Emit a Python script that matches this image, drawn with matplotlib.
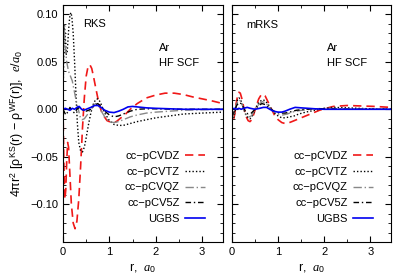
import matplotlib
matplotlib.use("Agg")
import matplotlib.pyplot as plt
from matplotlib.ticker import MultipleLocator

plt.rcParams['font.family'] = ['Liberation Sans', 'DejaVu Sans']
plt.rcParams['mathtext.fontset'] = 'custom'
plt.rcParams['mathtext.rm'] = 'Liberation Sans'
plt.rcParams['mathtext.it'] = 'Liberation Serif:italic'
plt.rcParams['mathtext.sf'] = 'Liberation Sans'

labels = ["cc\u2212pCVDZ", "cc\u2212pCVTZ", "cc\u2212pCVQZ", "cc\u2212pCV5Z", "UGBS"]

# ---- RKS panel data ----
rks_dz_r = [0.0, 0.02, 0.04, 0.06, 0.08, 0.10, 0.12, 0.15, 0.18, 0.22, 0.26, 0.30, 0.34, 0.38, 0.42,
            0.46, 0.50, 0.54, 0.58, 0.62, 0.66, 0.70, 0.75, 0.80, 0.85, 0.95, 1.05, 1.15, 1.25, 1.35,
            1.45, 1.6, 1.8, 2.0, 2.2, 2.4, 2.6, 2.8, 3.0, 3.2, 3.45]
rks_dz_y = [0.0, -0.06, -0.095, -0.085, -0.055, -0.035, -0.04, -0.07, -0.10, -0.12, -0.126, -0.118, -0.095,
            -0.06, -0.02, 0.012, 0.035, 0.045, 0.047, 0.043, 0.034, 0.024, 0.012, 0.002, -0.005, -0.012,
            -0.014, -0.013, -0.009, -0.005, 0.0, 0.006, 0.012, 0.015, 0.017, 0.017, 0.0155, 0.013, 0.011,
            0.009, 0.006]

rks_tz_r = [0.0, 0.015, 0.03, 0.05, 0.07, 0.09, 0.11, 0.13, 0.15, 0.17, 0.19, 0.22, 0.25, 0.28, 0.31,
            0.34, 0.38, 0.42, 0.46, 0.50, 0.55, 0.60, 0.65, 0.70, 0.75, 0.80, 0.85, 0.90, 1.0, 1.1, 1.2,
            1.3, 1.45, 1.6, 1.8, 2.0, 2.3, 2.6, 3.0, 3.45]
rks_tz_y = [0.0, 0.06, 0.09, 0.075, 0.058, 0.06, 0.075, 0.09, 0.099, 0.102, 0.098, 0.08, 0.05, 0.015, -0.015,
            -0.035, -0.044, -0.045, -0.04, -0.03, -0.016, -0.004, 0.005, 0.010, 0.011, 0.008, 0.002, -0.004,
            -0.012, -0.016, -0.017, -0.017, -0.015, -0.013, -0.011, -0.009, -0.007, -0.005, -0.004, -0.003]

rks_qz_r = [0.0, 0.02, 0.05, 0.08, 0.12, 0.16, 0.20, 0.24, 0.28, 0.33, 0.37, 0.41, 0.46, 0.52, 0.58,
            0.64, 0.70, 0.75, 0.80, 0.85, 0.90, 1.0, 1.1, 1.2, 1.3, 1.45, 1.6, 1.8, 2.0, 2.3, 2.6, 3.0, 3.45]
rks_qz_y = [0.0, 0.09, 0.065, 0.05, 0.04, 0.035, 0.03, 0.02, 0.01, 0.0, -0.008, -0.011, -0.01, -0.006, -0.001,
            0.003, 0.006, 0.005, 0.001, -0.004, -0.008, -0.013, -0.014, -0.013, -0.011, -0.008, -0.006,
            -0.004, -0.003, -0.002, -0.001, -0.0005, 0.0]

rks_5z_r = [0.0, 0.03, 0.06, 0.1, 0.15, 0.2, 0.25, 0.3, 0.35, 0.4, 0.5, 0.6, 0.68, 0.75, 0.82, 0.9, 1.0,
            1.1, 1.2, 1.3, 1.45, 1.6, 1.8, 2.0, 2.5, 3.0, 3.45]
rks_5z_y = [0.0, -0.003, -0.006, -0.003, 0.002, -0.002, -0.004, 0.0, 0.002, 0.0, -0.002, 0.0, 0.004, 0.006,
            0.003, -0.002, -0.006, -0.008, -0.007, -0.005, -0.002, 0.0, 0.0005, 0.0005, 0.0, 0.0, 0.0]

rks_ug_r = [0.0, 0.05, 0.1, 0.15, 0.2, 0.25, 0.3, 0.35, 0.4, 0.45, 0.5, 0.6, 0.68, 0.75, 0.82, 0.9, 1.0,
            1.1, 1.2, 1.3, 1.4, 1.5, 1.6, 1.8, 2.0, 2.3, 2.6, 3.0, 3.45]
rks_ug_y = [0.0, 0.001, 0.0, -0.001, 0.001, 0.0, 0.002, 0.003, 0.0, -0.001, 0.0, 0.002, 0.004, 0.004,
            0.002, -0.001, -0.003, -0.0035, -0.002, 0.0, 0.0025, 0.003, 0.0025, 0.0015, 0.001, 0.0005, 0.0,
            0.0, 0.0]

# ---- mRKS panel data ----
m_dz_r = [0.0, 0.03, 0.06, 0.09, 0.12, 0.15, 0.18, 0.21, 0.25, 0.3, 0.35, 0.39, 0.43, 0.48, 0.53, 0.58,
          0.63, 0.67, 0.72, 0.77, 0.82, 0.87, 0.92, 1.0, 1.08, 1.15, 1.22, 1.3, 1.4, 1.5, 1.6, 1.7, 1.8,
          1.9, 2.0, 2.2, 2.5, 2.8, 3.1, 3.45]
m_dz_y = [0.0, -0.012, -0.005, 0.006, 0.014, 0.018, 0.017, 0.012, 0.003, -0.007, -0.012, -0.013, -0.011,
          -0.004, 0.004, 0.011, 0.015, 0.016, 0.014, 0.009, 0.004, -0.001, -0.006, -0.011, -0.014, -0.015,
          -0.0145, -0.013, -0.011, -0.009, -0.007, -0.005, -0.003, -0.001, 0.0005, 0.003, 0.004, 0.0035,
          0.003, 0.002]

m_tz_r = [0.0, 0.03, 0.06, 0.09, 0.12, 0.15, 0.18, 0.21, 0.25, 0.3, 0.35, 0.39, 0.43, 0.48, 0.53, 0.58,
          0.63, 0.67, 0.72, 0.77, 0.82, 0.87, 0.92, 1.0, 1.08, 1.15, 1.25, 1.35, 1.45, 1.6, 1.8, 2.0, 2.2,
          2.5, 3.0, 3.45]
m_tz_y = [0.0, -0.01, -0.004, 0.004, 0.010, 0.012, 0.011, 0.007, 0.001, -0.006, -0.009, -0.010, -0.008,
          -0.003, 0.003, 0.007, 0.009, 0.010, 0.009, 0.006, 0.003, -0.001, -0.004, -0.007, -0.009, -0.009,
          -0.008, -0.007, -0.005, -0.003, -0.001, 0.001, 0.002, 0.0015, 0.0005, 0.0]

m_qz_r = [0.0, 0.03, 0.06, 0.09, 0.12, 0.15, 0.18, 0.22, 0.27, 0.32, 0.37, 0.42, 0.48, 0.54, 0.6, 0.66,
          0.72, 0.78, 0.85, 0.92, 1.0, 1.1, 1.2, 1.3, 1.45, 1.6, 1.8, 2.0, 2.5, 3.0, 3.45]
m_qz_y = [0.0, -0.008, -0.002, 0.004, 0.008, 0.010, 0.009, 0.005, -0.002, -0.007, -0.008, -0.007, -0.002,
          0.003, 0.006, 0.008, 0.007, 0.004, 0.0, -0.003, -0.005, -0.006, -0.005, -0.003, -0.0015, -0.0005,
          0.0005, 0.001, 0.0005, 0.0, 0.0]

m_5z_r = [0.0, 0.03, 0.06, 0.1, 0.15, 0.2, 0.25, 0.3, 0.35, 0.42, 0.5, 0.58, 0.65, 0.72, 0.8, 0.88, 0.95,
          1.05, 1.15, 1.25, 1.4, 1.6, 1.8, 2.0, 2.5, 3.0, 3.45]
m_5z_y = [0.0, -0.006, -0.001, 0.004, 0.007, 0.006, 0.002, -0.003, -0.005, -0.004, 0.0, 0.004, 0.006,
          0.005, 0.002, -0.001, -0.003, -0.004, -0.004, -0.003, -0.001, 0.0, 0.0005, 0.0005, 0.0, 0.0, 0.0]

m_ug_r = [0.0, 0.05, 0.1, 0.15, 0.2, 0.25, 0.33, 0.4, 0.5, 0.6, 0.68, 0.75, 0.82, 0.9, 1.0, 1.08, 1.15,
          1.25, 1.37, 1.5, 1.65, 1.8, 2.0, 2.5, 3.0, 3.45]
m_ug_y = [0.0, 0.001, 0.0, 0.001, 0.0, 0.001, 0.002, 0.001, 0.0, 0.001, 0.002, 0.002, 0.0, -0.002, -0.003,
          -0.003, -0.002, 0.0, 0.002, 0.0015, 0.001, 0.0005, 0.0, 0.0, 0.0, 0.0]

styles = [
    dict(color="#f01818", ls=(0, (5, 3)), lw=1.2),
    dict(color="black", ls=(0, (1, 1.5)), lw=1.0),
    dict(color="#888888", ls=(0, (6, 2, 1, 2)), lw=1.0),
    dict(color="black", ls=(0, (4, 2, 1, 2)), lw=1.0),
    dict(color="#0000f0", ls="-", lw=1.2),
]

fig = plt.figure(figsize=(3.99, 2.79), dpi=100)
axL = fig.add_axes([63 / 399, 1 - 242 / 279, 160 / 399, 237 / 279])
axR = fig.add_axes([232 / 399, 1 - 242 / 279, 159 / 399, 237 / 279], sharey=axL)

left_data = [(rks_dz_r, rks_dz_y), (rks_tz_r, rks_tz_y), (rks_qz_r, rks_qz_y),
             (rks_5z_r, rks_5z_y), (rks_ug_r, rks_ug_y)]
right_data = [(m_dz_r, m_dz_y), (m_tz_r, m_tz_y), (m_qz_r, m_qz_y),
              (m_5z_r, m_5z_y), (m_ug_r, m_ug_y)]

for ax, data in ((axL, left_data), (axR, right_data)):
    for (r, y), st, lab in zip(data, styles, labels):
        ax.plot(r, y, label=lab, **st)
    ax.set_xlim(0, 3.45)
    ax.set_ylim(-0.14, 0.11)
    ax.xaxis.set_major_locator(MultipleLocator(1))
    ax.xaxis.set_minor_locator(MultipleLocator(0.5))
    ax.yaxis.set_major_locator(MultipleLocator(0.05))
    ax.yaxis.set_minor_locator(MultipleLocator(0.01))
    ax.tick_params(which="both", direction="in", top=True, right=True, labelsize=8)
    ax.tick_params(which="major", length=4)
    ax.tick_params(which="minor", length=2)
    ax.set_xlabel(r"r,  $a_0$", fontsize=9, labelpad=3)
    leg = ax.legend(loc="lower right", markerfirst=False, frameon=False, fontsize=8,
                    handlelength=1.8, handletextpad=0.45, labelspacing=0.5,
                    borderaxespad=0.0, bbox_to_anchor=(1 - 14 / 160, 14 / 237))
    ax.text(2.06, 0.065, "Ar", fontsize=8, va="center")
    ax.text(2.06, 0.049, "HF SCF", fontsize=8, va="center")

axL.set_yticks([-0.10, -0.05, 0.0, 0.05, 0.10])
axL.set_yticklabels(["\u22120.10", "\u22120.05", "0.00", "0.05", "0.10"])
plt.setp(axR.get_yticklabels(), visible=False)

axL.text(0.43, 0.090, "RKS", fontsize=8, va="center")
axR.text(0.30, 0.089, "mRKS", fontsize=8, va="center")

axL.set_ylabel("4\u03c0r$^{2}$ [\u03c1$^{\\rm KS}$(r) \u2212 \u03c1$^{\\rm WF}$(r)],  $e/a_0$",
               fontsize=9, labelpad=3)

fig.savefig("out.png", dpi=100)
